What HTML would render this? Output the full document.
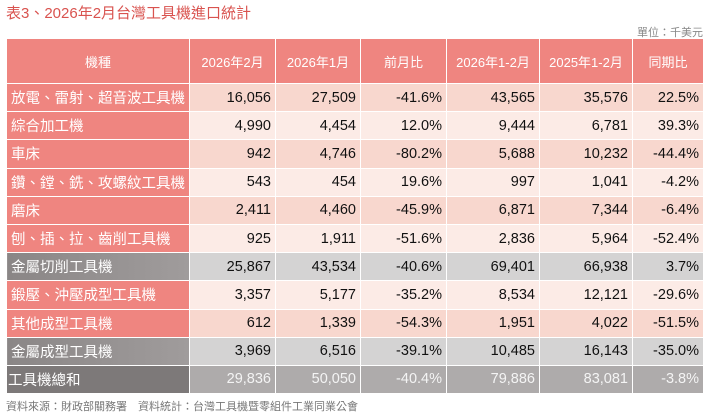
<!DOCTYPE html><html><head><meta charset="utf-8"><style>
body{margin:0;width:717px;height:414px;background:#fff;font-family:"Liberation Sans","Noto Sans CJK TC",sans-serif;position:relative;overflow:hidden}
.t{position:absolute;left:6px;top:2px;font-size:15px;color:#d9534f}
.u{position:absolute;right:14px;top:24px;font-size:11px;color:#888}
table{position:absolute;left:6px;top:38px;border-collapse:collapse;table-layout:fixed}
td{border:1px solid #fff;height:28.2px;padding:0 4px;font-size:14.5px;text-align:right;color:#111;box-sizing:border-box;white-space:nowrap}
td:first-child{text-align:left;color:#fff;background:#ef8580}
tr.h td{height:45px;background:#ef8580;color:#fff;text-align:center;font-size:13px}
tr.a td{background:#f8d7ce}tr.b td{background:#fcebe6}
tr.a td:first-child,tr.b td:first-child{background:#ef8580}
tr.g td{background:#d4d3d3}tr.g td:first-child{background:linear-gradient(90deg,#8a8686,#a09c9c)}
tr.s td{background:#aeabab;color:#f4f4f4}tr.s td:first-child{background:#7d7979;color:#fff;padding-left:1px}
.f{position:absolute;left:6px;top:398px;font-size:11px;color:#777}
</style></head><body>
<div class="t">表3、2026年2月台灣工具機進口統計</div>
<div class="u">單位：千美元</div>
<table>
<colgroup><col style="width:183px"><col style="width:86px"><col style="width:85px"><col style="width:86px"><col style="width:93px"><col style="width:93px"><col style="width:71px"></colgroup>
<tr class="h"><td>機種</td><td>2026年2月</td><td>2026年1月</td><td>前月比</td><td>2026年1-2月</td><td>2025年1-2月</td><td>同期比</td></tr>
<tr class="a"><td>放電、雷射、超音波工具機</td><td>16,056</td><td>27,509</td><td>-41.6%</td><td>43,565</td><td>35,576</td><td>22.5%</td></tr>
<tr class="b"><td>綜合加工機</td><td>4,990</td><td>4,454</td><td>12.0%</td><td>9,444</td><td>6,781</td><td>39.3%</td></tr>
<tr class="a"><td>車床</td><td>942</td><td>4,746</td><td>-80.2%</td><td>5,688</td><td>10,232</td><td>-44.4%</td></tr>
<tr class="b"><td>鑽、鏜、銑、攻螺紋工具機</td><td>543</td><td>454</td><td>19.6%</td><td>997</td><td>1,041</td><td>-4.2%</td></tr>
<tr class="a"><td>磨床</td><td>2,411</td><td>4,460</td><td>-45.9%</td><td>6,871</td><td>7,344</td><td>-6.4%</td></tr>
<tr class="b"><td>刨、插、拉、齒削工具機</td><td>925</td><td>1,911</td><td>-51.6%</td><td>2,836</td><td>5,964</td><td>-52.4%</td></tr>
<tr class="g"><td>金屬切削工具機</td><td>25,867</td><td>43,534</td><td>-40.6%</td><td>69,401</td><td>66,938</td><td>3.7%</td></tr>
<tr class="b"><td>鍛壓、沖壓成型工具機</td><td>3,357</td><td>5,177</td><td>-35.2%</td><td>8,534</td><td>12,121</td><td>-29.6%</td></tr>
<tr class="a"><td>其他成型工具機</td><td>612</td><td>1,339</td><td>-54.3%</td><td>1,951</td><td>4,022</td><td>-51.5%</td></tr>
<tr class="g"><td>金屬成型工具機</td><td>3,969</td><td>6,516</td><td>-39.1%</td><td>10,485</td><td>16,143</td><td>-35.0%</td></tr>
<tr class="s"><td>工具機總和</td><td>29,836</td><td>50,050</td><td>-40.4%</td><td>79,886</td><td>83,081</td><td>-3.8%</td></tr>
</table>
<div class="f">資料來源：財政部關務署　資料統計：台灣工具機暨零組件工業同業公會</div>
</body></html>
